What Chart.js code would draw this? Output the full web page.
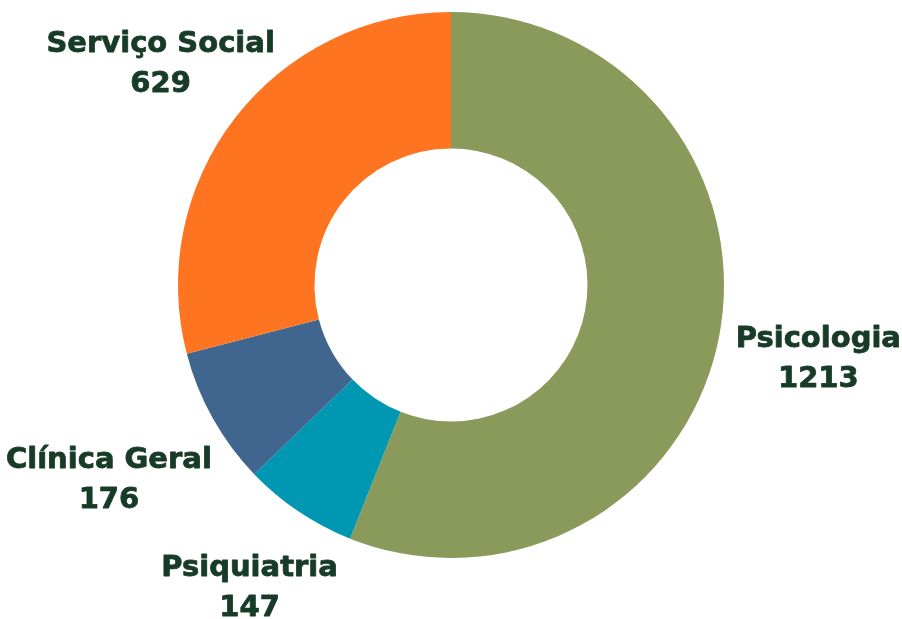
<!DOCTYPE html>
<html lang="pt">
<head>
  <meta charset="UTF-8" />
  <title>Atendimentos por área</title>
  <script src="https://cdn.jsdelivr.net/npm/chart.js"></script>
  <style>
    html, body { margin: 0; padding: 0; background: #fff; }
    #wrap { width: 902px; height: 619px; }
  </style>
</head>
<body>
  <div id="wrap"><canvas id="areaChart" width="902" height="619"></canvas></div>

  <script>
    // Dados
    const areas = ['Psicologia', 'Psiquiatria', 'Clínica Geral', 'Serviço Social'];
    const atendimentos = [1213, 147, 176, 629];
    const cores = ['#8A9A5B', '#0097B2', '#406690', '#FF7420'];

    // Rótulos fora da rosca (nome + valor)
    const rotulosExternos = {
      id: 'rotulosExternos',
      afterDatasetsDraw(chart) {
        const ctx = chart.ctx;
        const meta = chart.getDatasetMeta(0);
        const afastamento = [101, 88, 119, 94]; // distância além da borda, por fatia
        ctx.save();
        ctx.fillStyle = '#173B27';
        ctx.strokeStyle = '#173B27';
        ctx.lineWidth = 0.8;
        ctx.lineJoin = 'round';
        ctx.font = 'bold 29px "DejaVu Sans"';
        ctx.textAlign = 'center';
        ctx.textBaseline = 'middle';
        meta.data.forEach((arc, i) => {
          const p = arc.getProps(['x', 'y', 'startAngle', 'endAngle', 'outerRadius'], true);
          const mid = (p.startAngle + p.endAngle) / 2;
          const r = p.outerRadius + afastamento[i];
          const x = p.x + Math.cos(mid) * r;
          const y = p.y + Math.sin(mid) * r;
          const linhas = [areas[i], String(atendimentos[i])];
          linhas.forEach((t, k) => {
            const ly = y + (k === 0 ? -16 : 24);
            ctx.strokeText(t, x, ly);
            ctx.fillText(t, x, ly);
          });
        });
        ctx.restore();
      }
    };

    new Chart(document.getElementById('areaChart'), {
      type: 'doughnut',
      data: {
        labels: areas,
        datasets: [{
          data: atendimentos,
          backgroundColor: cores,
          borderWidth: 0
        }]
      },
      options: {
        responsive: false,
        animation: false,
        cutout: '50%',
        layout: { padding: { top: 12, bottom: 61 } },
        plugins: {
          legend: { display: false },
          tooltip: { enabled: false }
        }
      },
      plugins: [rotulosExternos]
    });
  </script>
</body>
</html>
